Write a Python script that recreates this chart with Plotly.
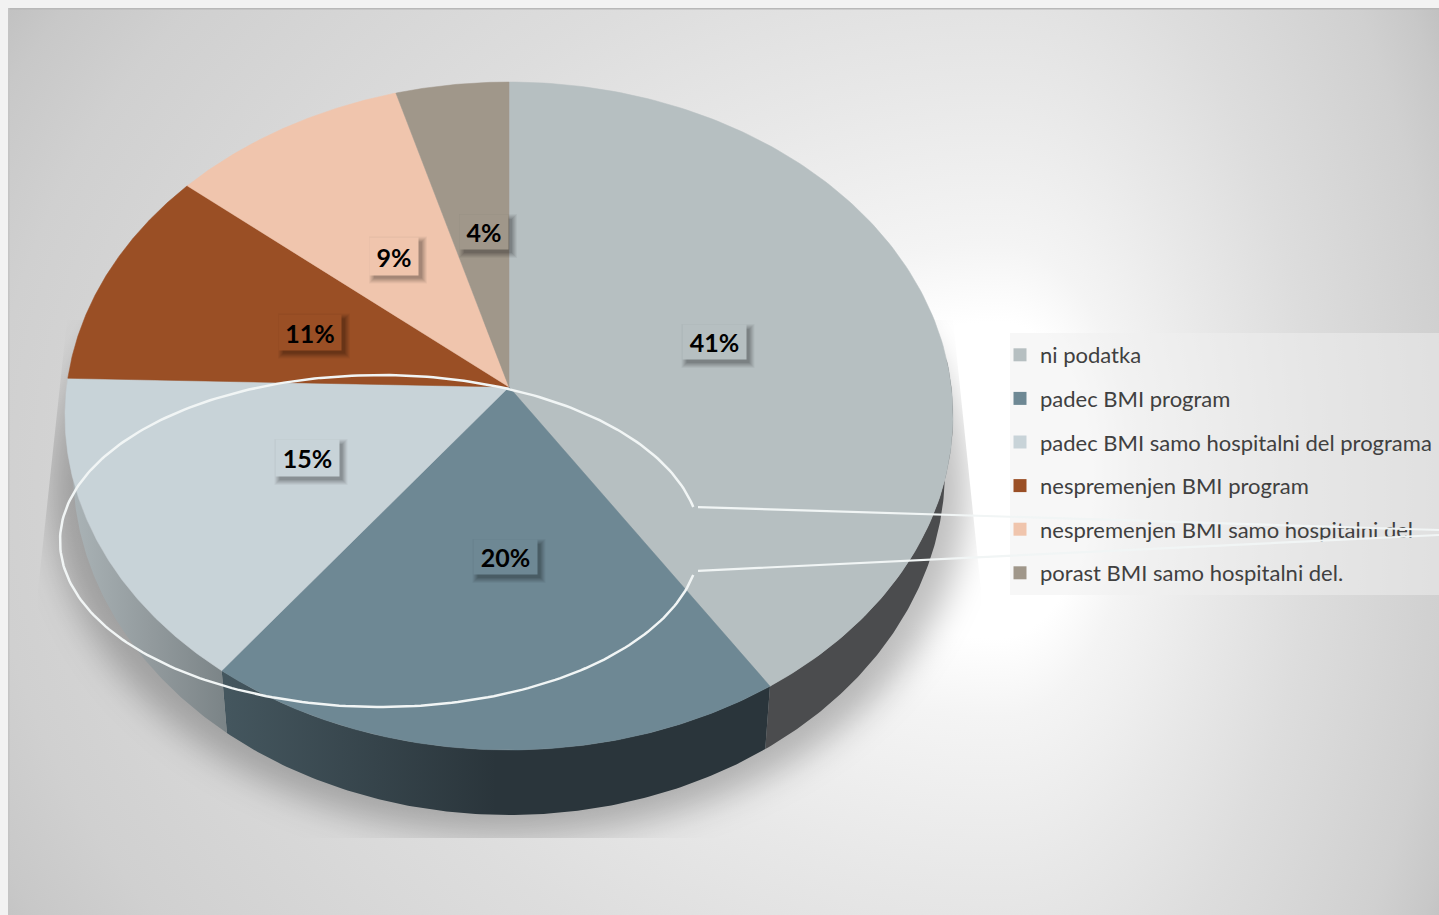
import base64
import numpy as np
import plotly.graph_objects as go

# ---- data ----
categories = ["ni podatka", "padec BMI program", "padec BMI samo hospitalni del programa",
              "nespremenjen BMI program", "nespremenjen BMI samo hospitalni del",
              "porast BMI samo hospitalni del."]
percent_labels = [41, 20, 15, 11, 9, 4]
# shares as they are actually drawn on the tilted top face (perspective shifts them slightly)
drawn_shares = [40.0, 21.2, 15.6, 10.3, 8.8, 4.1]
colors = ["#b6bfc1", "#6e8894", "#c8d3d8", "#9a4f25", "#f0c5ad", "#a0978a"]
wall_colors = [["#4b4c4e", "#4b4c4e", "#4b4c4e"], ["#44565e", "#2a353b", "#2a353b"],
               ["#a9b2b5", "#929a9d", "#7a8386"]]
label_centers = [(714, 342), (505, 557), (307, 458), (310, 332), (394, 256), (484, 232)]
label_sizes = [(63, 34), (63, 34), (63, 36), (62, 35), (48, 37), (48, 34)]

# geometry of the tilted disc, in page pixels
CX, CY, RX, RY = 509, 416, 444, 334
APEX_Y = 387
BCY, BRX, BRY = 470, 436, 345
W, H = 1439, 915
M = 8


def top(t):
    return CX + RX * np.sin(t), CY - RY * np.cos(t)


def bottom(t):
    return CX + BRX * np.sin(t), BCY - BRY * np.cos(t)


edges = np.cumsum([0] + drawn_shares) / sum(drawn_shares) * 2 * np.pi

# page background: off-centre glow, elliptical with a different reach to each side
GX, GY = 1000, 480
stops = [(0, "#ffffff"), (.2, "#ffffff"), (.3, "#f4f4f4"), (.5, "#e8e8e8"), (.7, "#dddddd"),
         (1, "#d0d0d0"), (1.1, "#c8c8c8"), (1.2, "#bbbbbb")]
stop_svg = "".join(f"<stop offset='{s / 1.2:.4f}' stop-color='{c}'/>" for s, c in stops)
defs = ""
rects = ""
for name, rx, x0, x1 in (("l", 1010, M, GX), ("r", 445, GX, W)):
    defs += (f"<radialGradient id='{name}' gradientUnits='userSpaceOnUse' cx='0' cy='0' r='1.2' "
             f"gradientTransform='translate({GX},{GY}) scale({rx},790)'>{stop_svg}</radialGradient>")
    rects += f"<rect x='{x0}' y='{M}' width='{x1 - x0}' height='{H - M}' fill='url(#{name})'/>"

svg = f"""<svg xmlns='http://www.w3.org/2000/svg' width='{W-M}' height='{H-M}' viewBox='{M} {M} {W-M} {H-M}'>
<defs>{defs}
<filter id='b' x='-20%' y='-20%' width='140%' height='140%'><feGaussianBlur stdDeviation='17'/></filter>
<clipPath id='c'><polygon points='67,320 38,590 38,838 981,838 981,590 953,320'/></clipPath>
</defs>
{rects}
<g clip-path='url(#c)'><ellipse cx='509' cy='490' rx='458' ry='345' fill='#000' fill-opacity='.25' filter='url(#b)'/></g>
<rect x='{M}' y='{M}' width='{W-M}' height='1.5' fill='#b8b8b8'/>
<rect x='{M}' y='{M}' width='1.5' height='{H-M}' fill='#c4c4c4'/>
</svg>"""
bg_uri = "data:image/svg+xml;base64," + base64.b64encode(svg.encode()).decode()

fig = go.Figure()

# side walls of the disc (only the part that shows below the top face)
for i, wc in enumerate(wall_colors):
    t = np.linspace(max(edges[i], 1.4), edges[i + 1], 120)
    tx, ty = top(t)
    bx, by = bottom(t)
    xs = np.r_[bx, tx[::-1], bx[0]]
    ys = np.r_[by, ty[::-1], by[0]]
    lo, hi = bx.min(), bx.max()
    if i == 2:
        lo, hi = 75, 228
    scale = [[k / (len(wc) - 1), col] for k, col in enumerate(wc)]
    fig.add_trace(go.Scatter(
        x=xs, y=ys, mode="lines", line=dict(width=0), fill="toself", hoverinfo="skip", showlegend=False,
        fillgradient=dict(type="horizontal", colorscale=scale, start=lo, stop=hi)))

# top faces of the slices
for i, (name, c) in enumerate(zip(categories, colors)):
    t = np.linspace(edges[i], edges[i + 1], 160)
    ax, ay = top(t)
    fig.add_trace(go.Scatter(
        x=np.r_[CX, ax, CX], y=np.r_[APEX_Y, ay, APEX_Y], mode="lines", line=dict(width=0.5, color=c),
        fill="toself", fillcolor=c, name=name, text=f"{percent_labels[i]}%", hoverinfo="name+text",
        showlegend=False))

# legend entries
for i, (name, c) in enumerate(zip(categories, colors)):
    fig.add_trace(go.Scatter(x=[None], y=[None], mode="markers", name=name, legendgroup=name,
                             marker=dict(symbol="square", size=13, color=c)))

# callout ring
ring_t = np.linspace(np.deg2rad(101.8), np.deg2rad(360 + 78.2), 300)
fig.add_trace(go.Scatter(x=380 + 320 * np.sin(ring_t), y=541 - 166 * np.cos(ring_t), mode="lines",
                         line=dict(color="#f1f5f5", width=2.5), hoverinfo="skip", showlegend=False))

shapes = [dict(type="rect", x0=1010, x1=W, y0=333, y1=595, fillcolor="rgba(240,240,240,0.5)", line_width=0,
               layer="above")]
for (cx, cy), (w, h) in zip(label_centers, label_sizes):
    for grow, op in ((5, .04), (4, .05), (3, .06), (2, .06), (1, .07), (0, .08)):
        shapes.append(dict(type="rect", x0=cx - w / 2 + 4 - grow, x1=cx + w / 2 + 4 + grow,
                           y0=cy - h / 2 + 4 - grow, y1=cy + h / 2 + 4 + grow,
                           fillcolor="#000", opacity=op, line_width=0, layer="above"))

annotations = []
for p, (cx, cy), (w, h), c in zip(percent_labels, label_centers, label_sizes, colors):
    annotations.append(dict(x=cx, y=cy, xref="x", yref="y", text=f"<b>{p}%</b>", showarrow=False,
                            width=w, height=h, bgcolor=c, borderpad=0, align="center", valign="middle",
                            font=dict(family="Lato", size=25, color="#000000")))
# leader lines of the callout, passing over the legend
for (x0, y0, x1, y1) in ((695, 507, 1439, 530), (695, 571, 1439, 535)):
    annotations.append(dict(x=x1, y=y1, ax=x0, ay=y0, xref="x", yref="y", axref="x", ayref="y", text=" ",
                            showarrow=True, arrowhead=0, arrowwidth=2.2, arrowcolor="#f1f5f5",
                            standoff=0, startstandoff=0))

fig.update_layout(
    width=W, height=H, margin=dict(l=M, r=0, t=M, b=0, autoexpand=False),
    paper_bgcolor="#f2f2f2", plot_bgcolor="rgba(0,0,0,0)",
    xaxis=dict(range=[M, W], visible=False, fixedrange=True),
    yaxis=dict(range=[H, M], visible=False, fixedrange=True),
    images=[dict(source=bg_uri, xref="x", yref="y", x=M, y=M, sizex=W - M, sizey=H - M,
                 sizing="stretch", layer="below", xanchor="left", yanchor="top")],
    shapes=shapes, annotations=annotations,
    font=dict(family="Lato"),
    legend=dict(x=(1000 - M) / (W - M), xanchor="left", y=1 - (334 - M) / (H - M), yanchor="top",
                bgcolor="rgba(0,0,0,0)", borderwidth=0, traceorder="grouped", tracegroupgap=12,
                font=dict(family="Lato", size=22, color="#404040")),
    showlegend=True,
)

fig.write_html("out.html", config={"displayModeBar": False},
               post_script="document.body.style.margin='0';document.body.style.background='#f2f2f2';"
                           "document.body.style.overflow='hidden';")
